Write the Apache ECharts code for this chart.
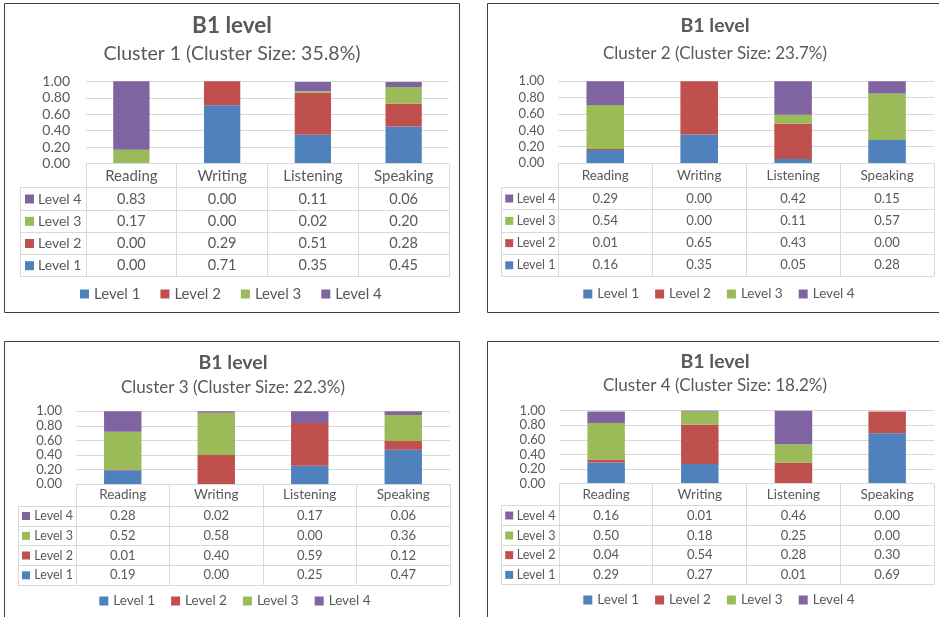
<!DOCTYPE html>
<html>
<head>
<meta charset="utf-8">
<script src="https://cdn.jsdelivr.net/npm/echarts@6/dist/echarts.min.js"></script>
<style>
html,body{margin:0;padding:0;background:#fff;}
#chart{width:939px;height:617px;}
</style>
</head>
<body>
<div id="chart"></div>
<script>
// ---------- DATA ----------
const categories = ['Reading', 'Writing', 'Listening', 'Speaking'];
const levelNames = ['Level 1', 'Level 2', 'Level 3', 'Level 4'];
const mainTitle = 'B1 level';
const clusterTitles = [
  'Cluster 1 (Cluster Size: 35.8%)',
  'Cluster 2 (Cluster Size: 23.7%)',
  'Cluster 3 (Cluster Size: 22.3%)',
  'Cluster 4 (Cluster Size: 18.2%)'
];

const c1Level1 = [0.00, 0.71, 0.35, 0.45];
const c1Level2 = [0.00, 0.29, 0.51, 0.28];
const c1Level3 = [0.17, 0.00, 0.02, 0.20];
const c1Level4 = [0.83, 0.00, 0.11, 0.06];

const c2Level1 = [0.16, 0.35, 0.05, 0.28];
const c2Level2 = [0.01, 0.65, 0.43, 0.00];
const c2Level3 = [0.54, 0.00, 0.11, 0.57];
const c2Level4 = [0.29, 0.00, 0.42, 0.15];

const c3Level1 = [0.19, 0.00, 0.25, 0.47];
const c3Level2 = [0.01, 0.40, 0.59, 0.12];
const c3Level3 = [0.52, 0.58, 0.00, 0.36];
const c3Level4 = [0.28, 0.02, 0.17, 0.06];

const c4Level1 = [0.29, 0.27, 0.01, 0.69];
const c4Level2 = [0.04, 0.54, 0.28, 0.30];
const c4Level3 = [0.50, 0.18, 0.25, 0.00];
const c4Level4 = [0.16, 0.01, 0.46, 0.00];

const clusterData = [
  [c1Level1, c1Level2, c1Level3, c1Level4],
  [c2Level1, c2Level2, c2Level3, c2Level4],
  [c3Level1, c3Level2, c3Level3, c3Level4],
  [c4Level1, c4Level2, c4Level3, c4Level4]
];

// ---------- STYLE / LAYOUT ----------
const colors = ['#4F81BD', '#C0504D', '#9BBB59', '#8064A2'];
const textColor = '#595959';
const lineColor = '#D9D9D9';
const FONT = 'Lato, "Open Sans", sans-serif';

const panels = [
  { box: [4.5, 3.5, 455, 309], cx: 232, titleY: 26, subY: 54,
    plot: { l: 86, r: 449, t: 81.3, b: 163.7 }, tableLeft: 20,
    headerB: 187.7, rowsB: [210.3, 232.3, 254.7, 276.7],
    legendLeft: 80, legendY: 294, legendGap: 20,
    fs: { title: 22.5, sub: 19.5, axis: 14, table: 14.5, head: 15, legend: 15, row: 14 },
    sq: { dx: 5, size: 9, tx: 18 } },
  { box: [487.5, 3.5, 460, 309], cx: 715, titleY: 26, subY: 54,
    plot: { l: 558.3, r: 934, t: 81.3, b: 163 }, tableLeft: 501.7,
    headerB: 187.3, rowsB: [209.7, 232, 254.3, 276.3],
    legendLeft: 583.3, legendY: 294, legendGap: 16,
    fs: { title: 19.5, sub: 17, axis: 13, table: 13, head: 13.5, legend: 13.5, row: 12.5 },
    sq: { dx: 3.5, size: 8, tx: 15 } },
  { box: [4.5, 341.5, 455, 290], cx: 233, titleY: 362.3, subY: 387.3,
    plot: { l: 76, r: 450, t: 411.3, b: 484 }, tableLeft: 18,
    headerB: 506, rowsB: [526, 545.7, 565.3, 585.3],
    legendLeft: 99.3, legendY: 601, legendGap: 16,
    fs: { title: 19.5, sub: 17, axis: 13, table: 13, head: 13.5, legend: 13.5, row: 12.5 },
    sq: { dx: 4, size: 8, tx: 16.3 } },
  { box: [487.5, 341.5, 460, 290], cx: 715, titleY: 361.7, subY: 386,
    plot: { l: 559.3, r: 934, t: 410.7, b: 483.7 }, tableLeft: 501.7,
    headerB: 505.3, rowsB: [525.7, 545.3, 565, 584.7],
    legendLeft: 583.3, legendY: 600, legendGap: 16,
    fs: { title: 19.5, sub: 17, axis: 13, table: 13, head: 13.5, legend: 13.5, row: 12.5 },
    sq: { dx: 3.5, size: 8, tx: 15 } }
];

const px = v => Math.round(v - 0.5) + 0.5;

const grids = [], xAxes = [], yAxes = [], series = [], legends = [], graphics = [];

panels.forEach((p, k) => {
  const P = p.plot;
  grids.push({ left: P.l, top: P.t, width: P.r - P.l, height: P.b - P.t, containLabel: false });
  xAxes.push({
    gridIndex: k, type: 'category', data: categories,
    axisLine: { show: false }, axisTick: { show: false },
    axisLabel: { margin: 0, lineHeight: p.headerB - P.b, fontSize: p.fs.head,
                 color: textColor, fontFamily: FONT }
  });
  yAxes.push({
    gridIndex: k, type: 'value', min: 0, max: 1, interval: 0.2,
    axisLine: { show: false }, axisTick: { show: false },
    axisLabel: { formatter: v => v.toFixed(2), fontSize: p.fs.axis, color: textColor,
                 fontFamily: FONT, margin: k === 0 ? 16 : 14 },
    splitLine: { lineStyle: { color: lineColor, width: 1 } }
  });
  levelNames.forEach((name, j) => {
    series.push({
      type: 'bar', name: name, xAxisIndex: k, yAxisIndex: k, stack: 'p' + k,
      barWidth: '40%', data: clusterData[k][j],
      itemStyle: { color: colors[j] }, clip: true
    });
  });
  legends.push({
    data: levelNames, left: p.legendLeft, top: p.legendY - 8, icon: 'rect', padding: 0,
    itemWidth: 9, itemHeight: 9, itemGap: p.legendGap, selectedMode: false,
    textStyle: { fontSize: p.fs.legend, color: textColor, fontFamily: FONT, lineHeight: 16 }
  });

  // panel border
  graphics.push({ type: 'rect', shape: { x: p.box[0], y: p.box[1], width: p.box[2], height: p.box[3] },
    style: { fill: 'none', stroke: '#404040', lineWidth: 1 }, z: 10 });
  // titles
  graphics.push({ type: 'text', x: p.cx, y: p.titleY, style: { text: mainTitle, fontSize: p.fs.title,
    fontWeight: 'bold', fontFamily: FONT, fill: textColor, align: 'center', verticalAlign: 'middle' } });
  graphics.push({ type: 'text', x: p.cx, y: p.subY, style: { text: clusterTitles[k], fontSize: p.fs.sub,
    fontFamily: FONT, fill: textColor, align: 'center', verticalAlign: 'middle' } });

  // table lines
  const cw = (P.r - P.l) / categories.length;
  const bottom = p.rowsB[p.rowsB.length - 1];
  const hline = (x1, x2, y) => graphics.push({ type: 'line', shape: { x1: x1, y1: px(y), x2: x2, y2: px(y) },
    style: { stroke: lineColor, lineWidth: 1 }, z: 5 });
  const vline = (x, y1, y2) => graphics.push({ type: 'line', shape: { x1: px(x), y1: y1, x2: px(x), y2: y2 },
    style: { stroke: lineColor, lineWidth: 1 }, z: 5 });
  hline(P.l, P.r, P.b);
  hline(p.tableLeft, P.r, p.headerB);
  p.rowsB.forEach(y => hline(p.tableLeft, P.r, y));
  for (let i = 0; i <= categories.length; i++) vline(P.l + i * cw, P.b, bottom);
  vline(p.tableLeft, p.headerB, bottom);

  // rows: Level 4 at top ... Level 1 at bottom
  for (let i = 0; i < 4; i++) {
    const j = 3 - i;
    const y0 = i === 0 ? p.headerB : p.rowsB[i - 1];
    const y1 = p.rowsB[i];
    const cy = (y0 + y1) / 2;
    graphics.push({ type: 'rect', shape: { x: p.tableLeft + p.sq.dx, y: cy - p.sq.size / 2,
      width: p.sq.size, height: p.sq.size }, style: { fill: colors[j] } });
    graphics.push({ type: 'text', x: p.tableLeft + p.sq.tx, y: cy, style: { text: levelNames[j],
      fontSize: p.fs.row, fontFamily: FONT, fill: textColor, align: 'left', verticalAlign: 'middle' } });
    clusterData[k][j].forEach((v, c) => {
      graphics.push({ type: 'text', x: P.l + (c + 0.5) * cw, y: cy, style: { text: v.toFixed(2),
        fontSize: p.fs.table, fontFamily: FONT, fill: textColor, align: 'center', verticalAlign: 'middle' } });
    });
  }
});

const chart = echarts.init(document.getElementById('chart'), null, { renderer: 'canvas' });
chart.setOption({
  animation: false,
  backgroundColor: '#ffffff',
  grid: grids, xAxis: xAxes, yAxis: yAxes, series: series, legend: legends,
  graphic: { elements: graphics }
});
</script>
</body>
</html>
